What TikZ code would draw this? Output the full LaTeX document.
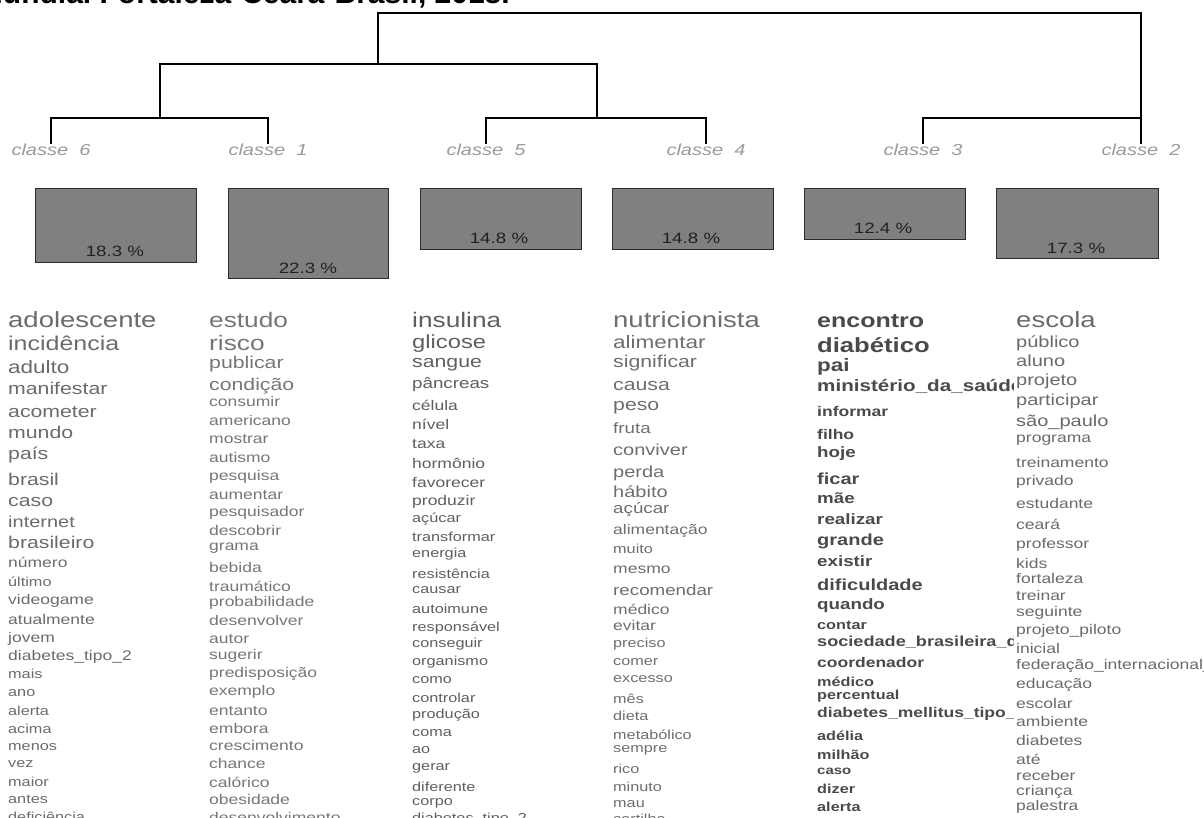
\documentclass[tikz,border=0pt]{standalone}
\usepackage{fontspec}
\setmainfont{Liberation Sans}
\newfontfamily\wf[FakeStretch=1.25]{Liberation Sans}
\definecolor{clsgray}{HTML}{9A9A9A}
\definecolor{boxfill}{HTML}{808080}
\definecolor{boxedge}{HTML}{2A2A2A}
\definecolor{pcttext}{HTML}{222222}
\definecolor{gsix}{HTML}{6B6B6B}
\definecolor{gone}{HTML}{767676}
\definecolor{gfive}{HTML}{5F5F5F}
\definecolor{gfour}{HTML}{6E6E6E}
\definecolor{gthree}{HTML}{4A4A4A}
\definecolor{gtwo}{HTML}{6A6A6A}
\begin{document}
\begin{tikzpicture}[x=1pt,y=-1pt,
  lnk/.style={line width=1.4pt, draw=black},
  cls/.style={font=\wf\itshape\fontsize{16}{16}\selectfont, text=clsgray, inner sep=0pt, anchor=north},
  bar/.style={draw=boxedge, line width=1.2pt, fill=boxfill, anchor=north west, inner sep=0pt},
  pct/.style={font=\wf\fontsize{15}{15}\selectfont, text=pcttext, inner sep=0pt},
  wd/.style={anchor=base west, inner sep=0pt}]
\useasboundingbox (0,0) rectangle (1204,818);
\clip (0,0) rectangle (1204,818);
\fill[white] (0,0) rectangle (1204,818);

% title (cut at top)
\node[font=\bfseries\fontsize{30}{30}\selectfont, anchor=base east, inner sep=0pt] (title) at (510,4) {Mundial Fortaleza-Ceará-Brasil, 2018.};

% class labels
\node[cls] (k6) at (51,144) {classe\ \ 6};
\node[cls] (k1) at (268,144) {classe\ \ 1};
\node[cls] (k5) at (486,144) {classe\ \ 5};
\node[cls] (k4) at (706,144) {classe\ \ 4};
\node[cls] (k3) at (923,144) {classe\ \ 3};
\node[cls] (k2) at (1141,144) {classe\ \ 2};

% dendrogram joins
\coordinate (j61) at (160,118);
\coordinate (j54) at (597,118);
\coordinate (jL) at (378,64);
\coordinate (jR) at (1141,13);
\coordinate (j32) at (1141,118);

\draw[lnk] (k6.north) |- (j61) -| (k1.north);
\draw[lnk] (k5.north) |- (j54) -| (k4.north);
\draw[lnk] (j61) |- (jL) -| (j54);
\draw[lnk] (jL) |- (jR) -- (k2.north);
\draw[lnk] (k3.north) |- (j32);

% boxes
\node[bar, minimum width=161pt, minimum height=74pt] (b6) at (35,188) {};
\node[bar, minimum width=160pt, minimum height=90pt] (b1) at (228,188) {};
\node[bar, minimum width=161pt, minimum height=61pt] (b5) at (420,188) {};
\node[bar, minimum width=161pt, minimum height=61pt] (b4) at (612,188) {};
\node[bar, minimum width=161pt, minimum height=51pt] (b3) at (804,188) {};
\node[bar, minimum width=162pt, minimum height=70pt] (b2) at (996,188) {};

\node[pct] (p6) at (115,251) {18.3 \%};
\node[pct] (p1) at (308,268) {22.3 \%};
\node[pct] (p5) at (499,238) {14.8 \%};
\node[pct] (p4) at (691,238) {14.8 \%};
\node[pct] (p3) at (883,228) {12.4 \%};
\node[pct] (p2) at (1076,248) {17.3 \%};

% column classe 6
\foreach \yy/\fsz/\ww [count=\i] in {
327/22/adolescente, 350/20/incidência, 373/18/adulto, 394/17/manifestar,
417/17/acometer, 438/17/mundo, 459/17/país, 485/17/brasil, 506/17/caso,
527/16/internet, 548/17/brasileiro, 567/14/número, 586/13/último,
604/14/videogame, 624/14/atualmente, 642/14/jovem, 660/14/diabetes\_tipo\_2,
678/13/mais, 696/13/ano, 715/13/alerta, 733/13/acima, 750/13/menos,
767/13/vez, 786/13/maior, 803/13/antes, 821/13/deficiência}
  \node[wd, text=gsix, font=\wf\fontsize{\fsz}{\fsz}\selectfont] (csix-\i) at (8,\yy) {\ww};

% column classe 1
\foreach \yy/\fsz/\ww [count=\i] in {
327/21/estudo, 350/21/risco, 368/17/publicar, 390/17/condição,
406/14/consumir, 425/14/americano, 443/14/mostrar, 462/14/autismo,
480/14/pesquisa, 499/14/aumentar, 516/14/pesquisador, 535/14/descobrir,
550/14/grama, 572/14/bebida, 591/14/traumático, 606/14/probabilidade,
625/14/desenvolver, 643/14/autor, 659/14/sugerir, 677/14/predisposição,
695/14/exemplo, 715/14/entanto, 733/14/embora, 750/14/crescimento,
768/14/chance, 787/14/calórico, 804/14/obesidade, 822/14/desenvolvimento}
  \node[wd, text=gone, font=\wf\fontsize{\fsz}{\fsz}\selectfont] (cone-\i) at (209,\yy) {\ww};

% column classe 5
\foreach \yy/\fsz/\ww [count=\i] in {
327/21/insulina, 348/19/glicose, 367/17/sangue, 388/15/pâncreas,
410/14/célula, 429/14/nível, 448/14/taxa, 468/14/hormônio,
487/14/favorecer, 505/14/produzir, 522/13/açúcar, 541/13/transformar,
557/13/energia, 578/13/resistência, 593/13/causar, 613/13/autoimune,
631/13/responsável, 647/13/conseguir, 665/13/organismo, 683/13/como,
702/13/controlar, 718/13/produção, 736/13/coma, 753/13/ao,
770/13/gerar, 791/13/diferente, 805/13/corpo, 822/13/diabetes\_tipo\_2}
  \node[wd, text=gfive, font=\wf\fontsize{\fsz}{\fsz}\selectfont] (cfive-\i) at (412,\yy) {\ww};

% column classe 4
\foreach \yy/\fsz/\ww [count=\i] in {
327/22/nutricionista, 348/18/alimentar, 367/17/significar, 390/17/causa,
410/17/peso, 433/15/fruta, 455/16/conviver, 477/16/perda,
497/16/hábito, 513/15/açúcar, 534/14/alimentação, 553/13/muito,
573/14/mesmo, 595/15/recomendar, 614/14/médico, 630/14/evitar,
647/13/preciso, 665/13/comer, 682/13/excesso, 703/13/mês,
720/13/dieta, 739/13/metabólico, 752/13/sempre, 773/13/rico,
791/13/minuto, 807/13/mau, 823/13/cartilha}
  \node[wd, text=gfour, font=\wf\fontsize{\fsz}{\fsz}\selectfont] (cfour-\i) at (613,\yy) {\ww};

% column classe 3 (clipped at right)
\begin{scope}
\clip (810,300) rectangle (1013,818);
\foreach \yy/\fsz/\ww [count=\i] in {
327/20/encontro, 352/20.5/diabético, 371/18/pai, 391/16.5/ministério\_da\_saúde,
416/14/informar, 439/14/filho, 457/15/hoje, 484/16/ficar,
503/15/mãe, 524/15/realizar, 545/16/grande, 566/15/existir,
590/16/dificuldade, 609/15/quando, 629/13/contar, 646/14.5/sociedade\_brasileira\_de\_diabetes,
667/14/coordenador, 686/13/médico, 699/13/percentual, 717/14/diabetes\_mellitus\_tipo\_1,
740/13/adélia, 759/13/milhão, 774/12/caso, 793/13/dizer, 811/13/alerta}
  \node[wd, text=gthree, font=\wf\bfseries\fontsize{\fsz}{\fsz}\selectfont] (cthree-\i) at (817,\yy) {\ww};
\end{scope}

% column classe 2
\foreach \yy/\fsz/\ww [count=\i] in {
327/22/escola, 347/16/público, 366/16/aluno, 385/16/projeto,
405/16/participar, 426/16/são\_paulo, 442/14/programa, 467/14/treinamento,
485/14/privado, 508/14/estudante, 529/14/ceará, 548/14/professor,
568/14/kids, 583/14/fortaleza, 600/14/treinar, 616/14/seguinte,
634/14/projeto\_piloto, 653/14/inicial, 669/14/federação\_internacional\_de\_diabetes,
688/14/educação, 708/14/escolar, 726/14/ambiente, 745/14/diabetes,
764/14/até, 780/14/receber, 795/14/criança, 810/14/palestra}
  \node[wd, text=gtwo, font=\wf\fontsize{\fsz}{\fsz}\selectfont] (ctwo-\i) at (1016,\yy) {\ww};
\end{tikzpicture}
\end{document}
